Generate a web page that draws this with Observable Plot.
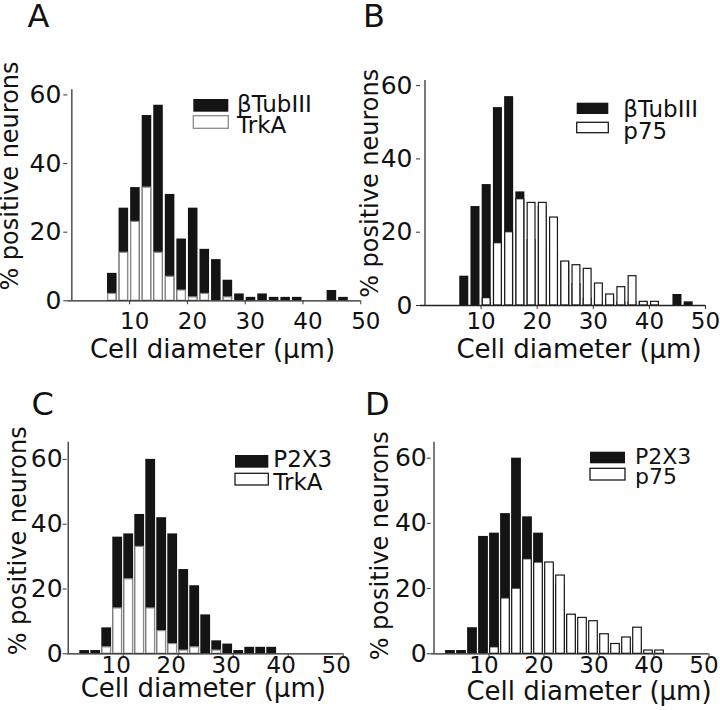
<!DOCTYPE html>
<html><head><meta charset="utf-8">
<script src="https://cdn.jsdelivr.net/npm/d3@7"></script>
<script src="https://cdn.jsdelivr.net/npm/@observablehq/plot@0.6"></script>
<style>
html,body{margin:0;padding:0;background:#fff;}
#wrap{position:relative;width:720px;height:710px;overflow:hidden;background:#fff;font-family:"DejaVu Sans",sans-serif;}
#wrap > svg{position:absolute;}
</style></head><body><div id="wrap"></div>
<script>
// ---- data (percent of positive neurons per 2 µm diameter bin) ----
const binWidth = 2;
const binStartTub = [6,8,10,12,14,16,18,20,22,24,26,28,30,32,34,36,38,40,42,44,46];
const tubIII      = [8,27,33,54,57,31,18,27,15,12,6,2,1,2,1,1,1,0,0,3,1];
const trkA        = [2,14,23,33,14,7,3,1,2,0,1,0,0,0,0,0,0,0,0,0,0];
const p75         = [0,0,2,17,20,29,28,28,24,12,11,10,6,3,5,8,1,1,0,0,0];
const binStartP2X3 = [2,4,6,8,10,12,14,16,18,20,22,24,26,28,30,32,34,36];
const p2x3         = [1,1,8,36,37,43,60,42,37,26,21,12,4,3,1,2,2,2];
const xTicks = [10,20,30,40,50];
const yTicks = [0,20,40,60];
const xTitle = "Cell diameter (\u03bcm)";
const yTitle = "% positive neurons";

const rows = (starts, vals) => starts.map((s, i) => ({x1: s, x2: s + binWidth, v: vals[i]})).filter(d => d.v > 0);
// TrkA and p75 share the βTubIII bins
const trkRows = rows(binStartTub, trkA);
const p75Rows = rows(binStartTub, p75);

const panels = [
  {id:"A", ox:0, oy:0, W:365, H:370, xd:[-0.7,50], yd:[0,61.5], ml:67.3, mr:4.7, mt:89.3, mb:69.7,
   black: rows(binStartTub, tubIII), white: trkRows, whiteStroke:"#8a8a8a", inset:1,
   yPad:2.5, xPad:11.5, xdx:5},
  {id:"B", ox:360, oy:0, W:360, H:370, xd:[-0.8,50], yd:[0,61.4], ml:60, mr:15, mt:80, mb:65,
   black: rows(binStartTub, tubIII), white: p75Rows, whiteStroke:"#1a1a1a", inset:1.1,
   yPad:4, xPad:7.5, xdx:0},
  {id:"C", ox:0, oy:360, W:360, H:350, xd:[-0.2,50], yd:[0,65.3], ml:66.6, mr:17.3, mt:81.7, mb:56.7,
   black: rows(binStartP2X3, p2x3), white: trkRows, whiteStroke:"#8a8a8a", inset:0.6,
   yPad:0.5, xPad:2.5, xdx:-7},
  {id:"D", ox:360, oy:360, W:360, H:350, xd:[-0.5,50], yd:[0,64.9], ml:70.75, mr:11.5, mt:81.7, mb:56.7,
   black: rows(binStartP2X3, p2x3), white: p75Rows, whiteStroke:"#1a1a1a", inset:0.6,
   yPad:0.5, xPad:2.5, xdx:-5}
];

const wrap = document.getElementById("wrap");
for (const p of panels) {
  const chart = Plot.plot({
    width: p.W, height: p.H,
    marginLeft: p.ml, marginRight: p.mr, marginTop: p.mt, marginBottom: p.mb,
    x: {domain: p.xd}, y: {domain: p.yd},
    style: {background: "transparent", overflow: "visible", fontFamily: "DejaVu Sans", color: "#111"},
    marks: [
      Plot.rectY(p.black, {x1: "x1", x2: "x2", y1: 0, y2: "v", fill: "#141414", insetLeft: p.inset, insetRight: p.inset}),
      Plot.rectY(p.white, {x1: "x1", x2: "x2", y1: 0, y2: "v", fill: "#fff", stroke: p.whiteStroke, strokeWidth: 1.2, insetLeft: p.inset + 0.6, insetRight: p.inset + 0.6}),
      Plot.ruleY([0], {stroke: "#222", strokeWidth: 1.3}),
      Plot.ruleX([0], {stroke: "#333", strokeWidth: 1.3}),
      Plot.axisY(yTicks, {tickSize: 4, tickPadding: p.yPad, fontSize: 25, label: null, stroke: "#333"}),
      Plot.axisX(xTicks, {tickSize: 4, fill: "none", label: null, stroke: "#333"}),
      Plot.axisX(xTicks, {tickSize: 0, stroke: "none", tickPadding: p.xPad, dx: p.xdx, fontSize: 23, label: null})
    ]
  });
  chart.style.left = p.ox + "px";
  chart.style.top = p.oy + "px";
  wrap.appendChild(chart);
}

// ---- annotation layer: panel letters, axis titles, legends ----
const ov = d3.select(wrap).append("svg")
  .attr("width", 720).attr("height", 710)
  .style("left", "0px").style("top", "0px")
  .attr("font-family", "DejaVu Sans").attr("fill", "#111");

const letters = [
  {t:"A", x:27.5, y:27.3}, {t:"B", x:363, y:26.7}, {t:"C", x:31.5, y:414.5}, {t:"D", x:365, y:415}
];
ov.selectAll("text.letter").data(letters).join("text").attr("class","letter")
  .attr("x", d => d.x).attr("y", d => d.y).attr("font-size", 32).text(d => d.t);

const yTitles = [{x:17.7, y:176}, {x:377.5, y:183.3}, {x:26, y:540.8}, {x:388, y:545.8}];
ov.selectAll("text.yt").data(yTitles).join("text").attr("class","yt")
  .attr("transform", d => `translate(${d.x},${d.y}) rotate(-90)`)
  .attr("text-anchor", "middle").attr("font-size", 24).text(yTitle);

const xTitles = [{x:212.5, y:358}, {x:579, y:357.5}, {x:203.3, y:697}, {x:589, y:700}];
ov.selectAll("text.xt").data(xTitles).join("text").attr("class","xt")
  .attr("x", d => d.x).attr("y", d => d.y)
  .attr("text-anchor", "middle").attr("font-size", 26).text(xTitle);

const legends = [
  {x:193.3, w:35, fs:23, tx:237, items:[
    {label:"\u03b2TubIII", fill:"#141414", stroke:"none", y:99, h:12.7, by:111.8},
    {label:"TrkA", fill:"#fff", stroke:"#8a8a8a", y:115.7, h:12.6, by:132.8}]},
  {x:576.7, w:31.6, fs:23, tx:623.3, items:[
    {label:"\u03b2TubIII", fill:"#141414", stroke:"none", y:102.7, h:11.3, by:116.5},
    {label:"p75", fill:"#fff", stroke:"#1a1a1a", y:122.3, h:10.4, by:138.5}]},
  {x:235, w:33.3, fs:23, tx:273.3, items:[
    {label:"P2X3", fill:"#141414", stroke:"none", y:455, h:12.7, by:466.8},
    {label:"TrkA", fill:"#fff", stroke:"#1a1a1a", y:473.3, h:11.7, by:490}]},
  {x:590, w:35, fs:22, tx:635, items:[
    {label:"P2X3", fill:"#141414", stroke:"none", y:451.7, h:11.6, by:463.5},
    {label:"p75", fill:"#fff", stroke:"#1a1a1a", y:468.3, h:11.7, by:484}]}
];
for (const lg of legends) {
  for (const it of lg.items) {
    ov.append("rect").attr("x", lg.x).attr("y", it.y).attr("width", lg.w).attr("height", it.h)
      .attr("fill", it.fill).attr("stroke", it.stroke).attr("stroke-width", 1.3);
    ov.append("text").attr("x", lg.tx).attr("y", it.by).attr("font-size", lg.fs).text(it.label);
  }
}
</script>
</body></html>
